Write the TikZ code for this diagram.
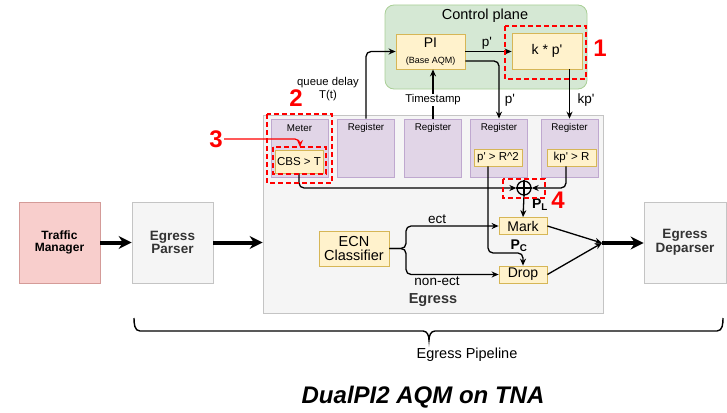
\documentclass[tikz,border=0pt]{standalone}
\usepackage{fontspec}
\setmainfont{Liberation Sans}
\usetikzlibrary{arrows.meta,calc}

\definecolor{yfill}{HTML}{FFF2CC}
\definecolor{ydraw}{HTML}{D6B656}
\definecolor{pfill}{HTML}{E1D5E7}
\definecolor{pdraw}{HTML}{BFA8CF}
\definecolor{gfill}{HTML}{D5E8D4}
\definecolor{gdraw}{HTML}{A9CF96}
\definecolor{efill}{HTML}{F5F5F5}
\definecolor{edraw}{HTML}{C4C4C4}
\definecolor{rfill}{HTML}{F8CECC}
\definecolor{rdraw}{HTML}{D49B98}
\definecolor{dgray}{HTML}{333333}
\definecolor{annot}{HTML}{FF0000}

\newcommand{\fs}[1]{\fontsize{#1}{#1}\selectfont}
\newcommand{\pq}{\textquotesingle}

\begin{document}
\begin{tikzpicture}[x=1pt,y=-1pt,
  ybox/.style={draw=ydraw,fill=yfill,line width=0.8pt,inner sep=0pt,align=center},
  pbox/.style={draw=pdraw,fill=pfill,line width=0.8pt,inner sep=0pt,
    minimum width=57pt,minimum height=58pt},
  plabel/.style={font=\fs{9.8},anchor=center},
  gbox/.style={draw=edraw,fill=efill,line width=0.8pt,inner sep=0pt,align=center,
    minimum width=81pt,minimum height=81pt,font=\fs{13.5}\bfseries,text=dgray},
  arr/.style={-{Stealth[length=7pt,width=6pt]},line width=1.3pt,rounded corners=5pt},
  fat/.style={-{Stealth[length=13pt,width=13pt]},line width=4pt},
  rdash/.style={draw=annot,line width=1.6pt,dash pattern=on 5pt off 3pt},
  rnum/.style={text=annot,font=\fs{24}\bfseries},
  lbl/.style={font=\fs{13.5},inner sep=1pt}]

\useasboundingbox (0,0) rectangle (727,412);

% main blocks
\node[draw=edraw,fill=efill,line width=0.8pt,minimum width=340pt,minimum height=198pt] (egress) at (433,214) {};
\node[font=\fs{14.5}\bfseries,text=dgray] (egresslbl) at (433,300) {Egress};

\node[draw=gdraw,fill=gfill,line width=0.8pt,rounded corners=9pt,minimum width=202pt,minimum height=84pt] (cp) at (486,47) {};
\node[font=\fs{14.5}] (cplbl) at (485,16) {Control plane};

\node[gbox,draw=rdraw,fill=rfill,text=black,font=\fs{12}\bfseries] (tm) at (59.5,242.5) {Traffic\\Manager};
\node[gbox] (parser) at (172.5,242.5) {Egress\\Parser};
\node[gbox,minimum width=82pt] (deparser) at (685,242.5) {Egress\\Deparser};

% control plane
\node[ybox,minimum width=69pt,minimum height=35pt] (pi) at (430.5,51.5) {};
\node[font=\fs{14}] (pitxt) at (430.5,43) {PI};
\node[font=\fs{9}] (pisub) at (430.5,61) {(Base AQM)};
\node[ybox,minimum width=70pt,minimum height=36pt,font=\fs{14}] (kp) at (547,51) {k * p\pq};

% registers
\node[pbox] (meter) at (299.5,148) {};
\node[pbox] (reg2) at (366,148) {};
\node[pbox] (reg3) at (433,148) {};
\node[pbox] (reg4) at (499,148) {};
\node[pbox] (reg5) at (569.5,148) {};
\node[plabel] (meterlbl) at (299.5,128) {Meter};
\node[plabel] (reg2lbl) at (366,128) {Register};
\node[plabel] (reg3lbl) at (433,128) {Register};
\node[plabel] (reg4lbl) at (499,128) {Register};
\node[plabel] (reg5lbl) at (569.5,128) {Register};

\node[ybox,minimum width=48pt,minimum height=23pt,font=\fs{11.5}] (cbs) at (299,161.5) {CBS > T};
\node[ybox,minimum width=48pt,minimum height=17pt,font=\fs{11.5}] (pr2) at (498,157.5) {p\pq{} > R\^{}2};
\node[ybox,minimum width=49pt,minimum height=17pt,font=\fs{11.5}] (kpr) at (571.5,157.5) {kp\pq{} > R};

% combine, mark, drop
\node[draw,circle,line width=1.3pt,minimum size=14pt,inner sep=0pt] (xor) at (524,188) {};
\draw[line width=1.3pt] (xor.north) -- (xor.south) (xor.west) -- (xor.east);
\node[ybox,minimum width=48pt,minimum height=17pt,font=\fs{14}] (mark) at (523,226) {Mark};
\node[ybox,minimum width=48pt,minimum height=17pt,font=\fs{14}] (drop) at (523,274.5) {Drop};
\node[ybox,minimum width=70pt,minimum height=35pt,font=\fs{14.5}] (ecn) at (354,248.5) {ECN\\Classifier};

% control plane connectors
\draw[arr] (pi.east) -- (pi.east -| kp.west);
\node[lbl] (plbl1) at (487,43) {p\pq};
\coordinate (pibend) at (498,61);
\draw[arr] (pi.east |- pibend) -| (reg4.north);
\node[lbl] (plbl2) at (510,100) {p\pq};
\draw[arr] (reg5.north |- kp.south) -- (reg5.north);
\node[lbl] (kplbl) at (586,100) {kp\pq};
\draw[arr] (reg3.north) -- (reg3.north |- pi.south);
\node[lbl,fill=white,font=\fs{11.3}] (tslbl) at (433,100) {Timestamp};
\draw[arr] (reg2.north) |- (pi.west);
\node[font=\fs{11.3},align=center,inner sep=0pt] (qd) at (328,89) {queue delay\\[2pt]T(t)};

% data plane connectors
\draw[arr] (cbs.south) |- (xor.west);
\draw[arr] ([xshift=-5.5pt]kpr.south) |- (xor.east);
\draw[arr] (xor.south) -- (mark.north);
\node[font=\fs{14}\bfseries] (pl) at (540,205) {P\textsubscript{L}};
\coordinate (pcb) at (523,253);
\draw[arr] ([xshift=-10pt]pr2.south) |- (pcb) -- (drop.north);
\node[font=\fs{14}\bfseries] (pc) at (519,246) {P\textsubscript{C}};
\coordinate (split) at (406,248.5);
\draw[arr] (ecn.east) -- (split) |- (mark.west);
\draw[arr] (ecn.east) -- (split) |- (drop.west);
\node[lbl] (ectlbl) at (437,219) {ect};
\node[lbl] (nonect) at (437,281) {non-ect};
\coordinate (join) at (602,243);
\draw[arr] (mark.east) -- (join);
\draw[arr] (drop.east) -- (join);

% pipeline arrows
\draw[fat] (tm.east) -- (parser.west);
\draw[fat] (parser.east) -- (parser.east -| egress.west);
\draw[fat] (join) -- (join -| deparser.west);

% annotations
\draw[rdash] (505,26) rectangle (586,79);
\node[rnum] (n1) at (600,48) {1};
\draw[rdash] (267,114) rectangle (332,183);
\node[rnum] (n2) at (296,98) {2};
\draw[rdash] (273,147) rectangle (326,174);
\node[rnum] (n3) at (216,139) {3};
\coordinate (cbstop) at (300,147);
\draw[arr,draw=annot,line width=1.2pt] ([xshift=-2pt]n3.east) -| (cbstop);
\draw[rdash] (503,179) rectangle (545,198);
\node[rnum] (n4) at (558,200) {4};

% pipeline brace
\draw[line width=1.4pt] (134,318) to[out=-90,in=180] (140,331) -- (423,331)
  to[out=0,in=90] (429,340) to[out=90,in=180] (435,331) -- (717,331)
  to[out=0,in=-90] (723,318);
\node[font=\fs{14.5}] (pipe) at (467,355) {Egress Pipeline};
\node[font=\fs{24}\bfseries\itshape] (title) at (423,397) {DualPI2 AQM on TNA};
\end{tikzpicture}
\end{document}
